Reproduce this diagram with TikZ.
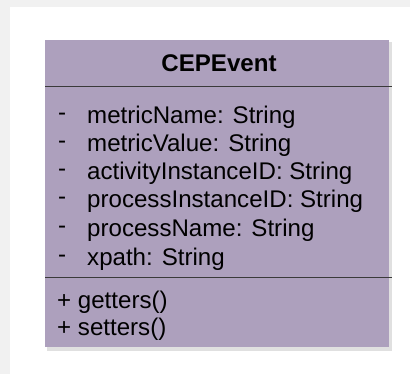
\documentclass[tikz,border=0pt]{standalone}
\usepackage{fontspec}
\setmainfont{Liberation Sans}
\definecolor{boxfill}{HTML}{ADA0BD}
\definecolor{outergray}{HTML}{F1F1F1}
\definecolor{linegray}{HTML}{3A3A3A}
\tikzset{
  attr/.style={anchor=west, inner sep=0pt, font=\fontsize{24.1}{28}\selectfont},
  dashmark/.style={anchor=west, inner sep=0pt, font=\fontsize{24.1}{28}\selectfont},
  sepline/.style={draw=linegray, line width=1pt},
}
\begin{document}
\begin{tikzpicture}[x=1pt,y=1pt]
\useasboundingbox (0,0) rectangle (410,374);
\fill[outergray] (0,0) rectangle (410,374);
\fill[white] (10,0) rectangle (410,367);
% shadow
\fill[black!12] (47,23) rectangle (392,332);
\fill[boxfill] (45,27) rectangle (389,334) coordinate (boxtr);
\node[inner sep=0pt, font=\bfseries\fontsize{24.1}{28}\selectfont] (title) at (219,311) {CEPEvent};
\coordinate (l1a) at (45,287);
\coordinate (l1b) at (392,287);
\draw[sepline] (l1a) -- (l1b);
\coordinate (l2a) at (45,96);
\coordinate (l2b) at (392,96);
\draw[sepline] (l2a) -- (l2b);
\foreach \y/\t [count=\i] in {257/metricName: String, 229/metricValue: String, 201/activityInstanceID: String, 173/processInstanceID: String, 144/processName: String, 115/xpath: String}{
  \node[dashmark] (d\i) at (58,\y) {-};
  \node[attr] (a\i) at (87,\y) {\t};
}
\node[attr] (m1) at (57,72) {+ getters()};
\node[attr] (m2) at (57,45) {+ setters()};
\end{tikzpicture}
\end{document}
